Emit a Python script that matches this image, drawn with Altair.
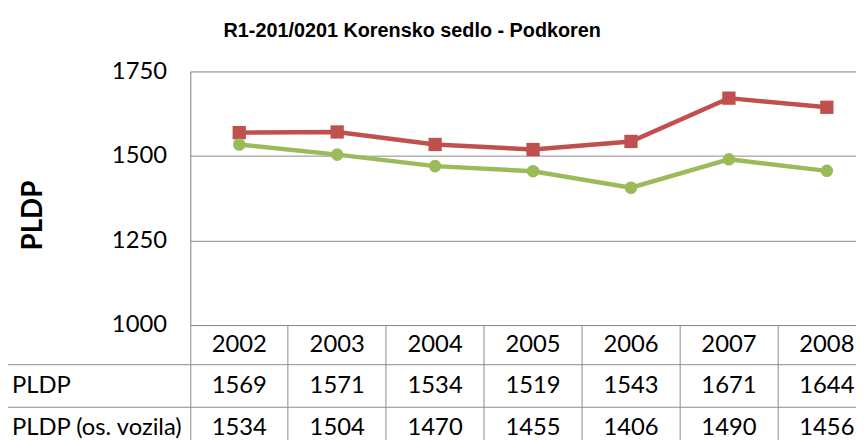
import altair as alt
import pandas as pd

years = ["2002", "2003", "2004", "2005", "2006", "2007", "2008"]
pldp = [1569, 1571, 1534, 1519, 1543, 1671, 1644]
pldp_os = [1534, 1504, 1470, 1455, 1406, 1490, 1456]
series_names = ["PLDP", "PLDP (os. vozila)"]
series_colors = ["#C0504D", "#9BBB59"]
y_ticks = [1000, 1250, 1500, 1750]
title_text = "R1-201/0201 Korensko sedlo - Podkoren"

rows = []
for name, vals in zip(series_names, [pldp, pldp_os]):
    for yr, v in zip(years, vals):
        rows.append({"year": yr, "value": v, "series": name})
df = pd.DataFrame(rows)
years_df = pd.DataFrame({"year": years})
one = pd.DataFrame({"a": [0]})

W, H = 672, 256
GRID = "#8c8c8c"
FONT = "Lato"
FS = 24

X = alt.X(
    "year:N",
    sort=years,
    scale=alt.Scale(type="band", domain=years, range=[0, 692], paddingInner=0, paddingOuter=0),
    axis=alt.Axis(
        title=None, labels=False, bandPosition=0, tickSize=130, tickColor=GRID,
        tickWidth=1, domainColor=GRID, domainWidth=1, grid=False,
    ),
)
Y = alt.Y(
    "value:Q",
    scale=alt.Scale(domain=[1000, 1750], nice=False, zero=False),
    axis=alt.Axis(
        values=y_ticks, format="d", title="PLDP", grid=True, gridColor=GRID, gridWidth=1,
        domainColor=GRID, tickSize=0, labelPadding=24, labelFont=FONT,
        labelFontSize=FS, labelColor="#000000", titleFont=FONT, titleFontSize=28,
        titleFontWeight="bold", titleColor="#000000", titleX=-158, titleY=145,
        titleAngle=270, titleAlign="center", titleBaseline="middle",
    ),
)
color = alt.Color(
    "series:N", scale=alt.Scale(domain=series_names, range=series_colors), legend=None
)

lines = alt.Chart(df).mark_line(strokeWidth=4.5).encode(x=X, y=Y, color=color)
red_pts = alt.Chart(df).transform_filter(alt.datum.series == series_names[0]).mark_point(
    shape="square", filled=True, size=180, opacity=1
).encode(x=X, y=Y, color=color)
green_pts = alt.Chart(df).transform_filter(alt.datum.series == series_names[1]).mark_point(
    shape="circle", filled=True, size=160, opacity=1
).encode(x=X, y=Y, color=color)

header = alt.Chart(years_df).mark_text(font=FONT, fontSize=FS, color="#000000", baseline="middle").encode(
    x=X, y=alt.value(276), text="year:N"
)
row1 = alt.Chart(df).transform_filter(alt.datum.series == series_names[0]).mark_text(
    font=FONT, fontSize=FS, color="#000000", baseline="middle"
).encode(x=X, y=alt.value(317.5), text="value:Q")
row2 = alt.Chart(df).transform_filter(alt.datum.series == series_names[1]).mark_text(
    font=FONT, fontSize=FS, color="#000000", baseline="middle"
).encode(x=X, y=alt.value(360), text="value:Q")

lab1 = alt.Chart(one).mark_text(
    text=series_names[0], font=FONT, fontSize=FS, color="#000000", align="left", baseline="middle"
).encode(x=alt.value(-180), y=alt.value(317.5))
lab2 = alt.Chart(one).mark_text(
    text=series_names[1], font=FONT, fontSize=FS, color="#000000", align="left", baseline="middle"
).encode(x=alt.value(-180), y=alt.value(360))

title = alt.Chart(one).mark_text(
    text=title_text, font="Liberation Sans", fontSize=20, fontWeight="bold",
    color="#000000", align="center", baseline="alphabetic",
).encode(x=alt.value(224), y=alt.value(-35))

hline1 = alt.Chart(one).mark_rule(color=GRID, strokeWidth=1).encode(
    x=alt.value(-184), x2=alt.value(W), y=alt.value(296)
)
hline2 = alt.Chart(one).mark_rule(color=GRID, strokeWidth=1).encode(
    x=alt.value(-184), x2=alt.value(W), y=alt.value(339)
)

chart = alt.layer(
    hline1, hline2, lines, red_pts, green_pts, header, row1, row2, lab1, lab2, title
).properties(
    width=W,
    height=H,
    autosize=alt.AutoSizeParams(type="none"),
    padding={"left": 184, "top": 62, "right": 0, "bottom": 114},
).configure_view(stroke=None).configure(background="white")

chart.save("out.html", embed_options={"renderer": "svg", "actions": False})
